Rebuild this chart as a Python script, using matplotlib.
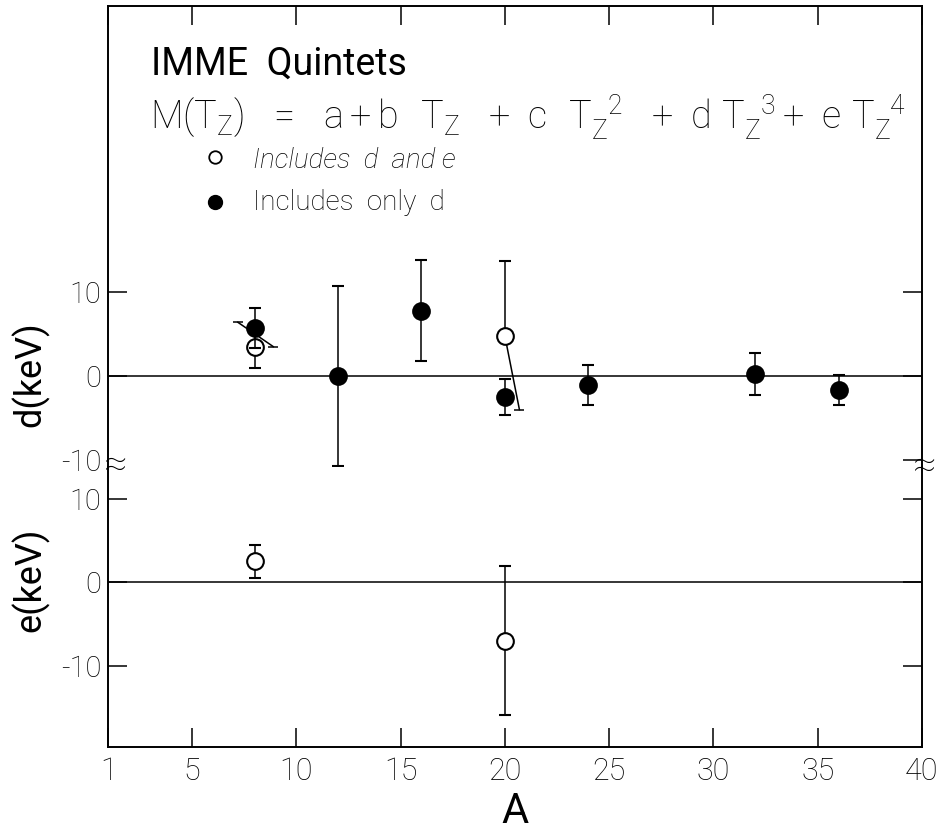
import matplotlib
matplotlib.use("Agg")
import matplotlib.pyplot as plt

plt.rcParams['font.family'] = ['Roboto', 'DejaVu Sans']
plt.rcParams['font.weight'] = 'light'
plt.rcParams['mathtext.fontset'] = 'custom'
plt.rcParams['mathtext.rm'] = 'Roboto:light'
plt.rcParams['mathtext.it'] = 'Roboto:italic:light'

# fit including only d (filled)
A_donly = [8, 12, 16, 20, 24, 32, 36]
d_donly = [5.7, 0.0, 7.8, -2.5, -1.1, 0.2, -1.7]
d_donly_err = [2.4, 10.7, 6.0, 2.1, 2.4, 2.5, 1.8]

# fit including d and e (open)
A_de = [8, 20]
d_de = [3.4, 4.8]
d_de_err_lo = [2.4, 0.0]
d_de_err_hi = [2.4, 8.9]
e_de = [2.5, -7.0]
e_de_err = [2.0, 8.9]

# slanted bars drawn in the original
slant8_A = [7.2, 8.9]
slant8_d = [6.4, 3.5]
slant20_A = [20.0, 20.7]
slant20_d = [4.8, -4.0]

xticks = [1, 5, 10, 15, 20, 25, 30, 35, 40]

L, R = 108.5 / 937, 922 / 937
ytop, ybrk, ybot = 6 / 832, 467 / 832, 747 / 832

fig = plt.figure(figsize=(9.37, 8.32), dpi=100)
axd = fig.add_axes([L, 1 - ybrk, R - L, ybrk - ytop])
axe = fig.add_axes([L, 1 - ybot, R - L, ybot - ybrk], sharex=axd)

ms = 12
for ax in (axd, axe):
    for s in ax.spines.values():
        s.set_linewidth(1.4)
    ax.axhline(0, color='k', lw=1.1, zorder=1)
    ax.tick_params(axis='y', direction='in', length=14, width=1.1,
                   left=True, right=True, labelsize=21, pad=5)
    ax.set_yticks([-10, 0, 10])
    ax.set_yticklabels(['-10', '0', '10'])
axd.spines['bottom'].set_visible(False)
axe.spines['top'].set_visible(False)

axd.set_xlim(1, 40)
axd.set_ylim(-10.83, 44.05)
axe.set_ylim(-19.77, 13.84)

axd.tick_params(axis='x', direction='in', length=14, width=1.1,
                bottom=False, top=True, labelbottom=False)
axe.tick_params(axis='x', direction='in', length=14, width=1.1,
                bottom=True, top=False, labelsize=22, pad=7)
axe.set_xticks(xticks)
axe.set_xticklabels([str(v) for v in xticks])
axd.yaxis.get_major_ticks()[0].tick1line.set_visible(False)

eb = dict(fmt='o', color='k', ms=ms, mew=1.5, elinewidth=1.1, capsize=4.5,
          capthick=1.1, clip_on=False)

# d panel
axd.errorbar(A_de, d_de, yerr=[d_de_err_lo, d_de_err_hi], mfc='white', zorder=3, **eb)
axd.errorbar(A_donly, d_donly, yerr=d_donly_err, mfc='k', zorder=4, **eb)
axd.plot(slant8_A, slant8_d, color='k', lw=1.1, zorder=2)
axd.plot(slant8_A, slant8_d, '_', color='k', ms=7, mew=1.1, zorder=2)
axd.plot(slant20_A, slant20_d, color='k', lw=1.1, zorder=2)
axd.plot(slant20_A[1:], slant20_d[1:], '_', color='k', ms=7, mew=1.1, zorder=2)

# e panel
axe.errorbar(A_de, e_de, yerr=e_de_err, mfc='white', zorder=3, **eb)

fig.text(30 / 937, 1 - 374 / 832, 'd(keV)', fontsize=26, fontweight='normal',
         rotation=90, ha='center', va='center')
fig.text(30 / 937, 1 - 580 / 832, 'e(keV)', fontsize=26, fontweight='normal',
         rotation=90, ha='center', va='center')
axe.set_xlabel('A', fontsize=30, fontweight='normal', labelpad=4)

# break marks
fig.text(116 / 937, 1 - 466 / 832, '≈', fontsize=30, ha='center', va='center')
fig.text(925 / 937, 1 - 467 / 832, '≈', fontsize=30, ha='center', va='center')

# title block
fig.text(151 / 937, 1 - 75 / 832, 'IMME  Quintets', fontsize=27, fontweight='normal',
         va='baseline')
fig.text(150 / 937, 1 - 129 / 832,
         r'$\mathrm{M(T_Z)\ \ =\ \ a+b\ \ T_Z\ \ +\ c\ \ T_Z^{\ \ 2}\ \ +\ d\ T_Z^{\ \ 3}+\ e\ T_Z^{\ \ 4}}$',
         fontsize=27.3, va='baseline')
axd.plot([215 / 937], [1 - 157 / 832], 'o', ms=9, mfc='white', mec='k', mew=1.3,
         transform=fig.transFigure, clip_on=False)
axd.plot([215 / 937], [1 - 202 / 832], 'o', ms=10, mfc='k', mec='k',
         transform=fig.transFigure, clip_on=False)
fig.text(253 / 937, 1 - 168 / 832, 'Includes  d  and e', fontsize=20, style='italic',
         va='baseline')
fig.text(253 / 937, 1 - 210 / 832, 'Includes  only  d', fontsize=20, va='baseline')

fig.savefig('out.png', dpi=100)
